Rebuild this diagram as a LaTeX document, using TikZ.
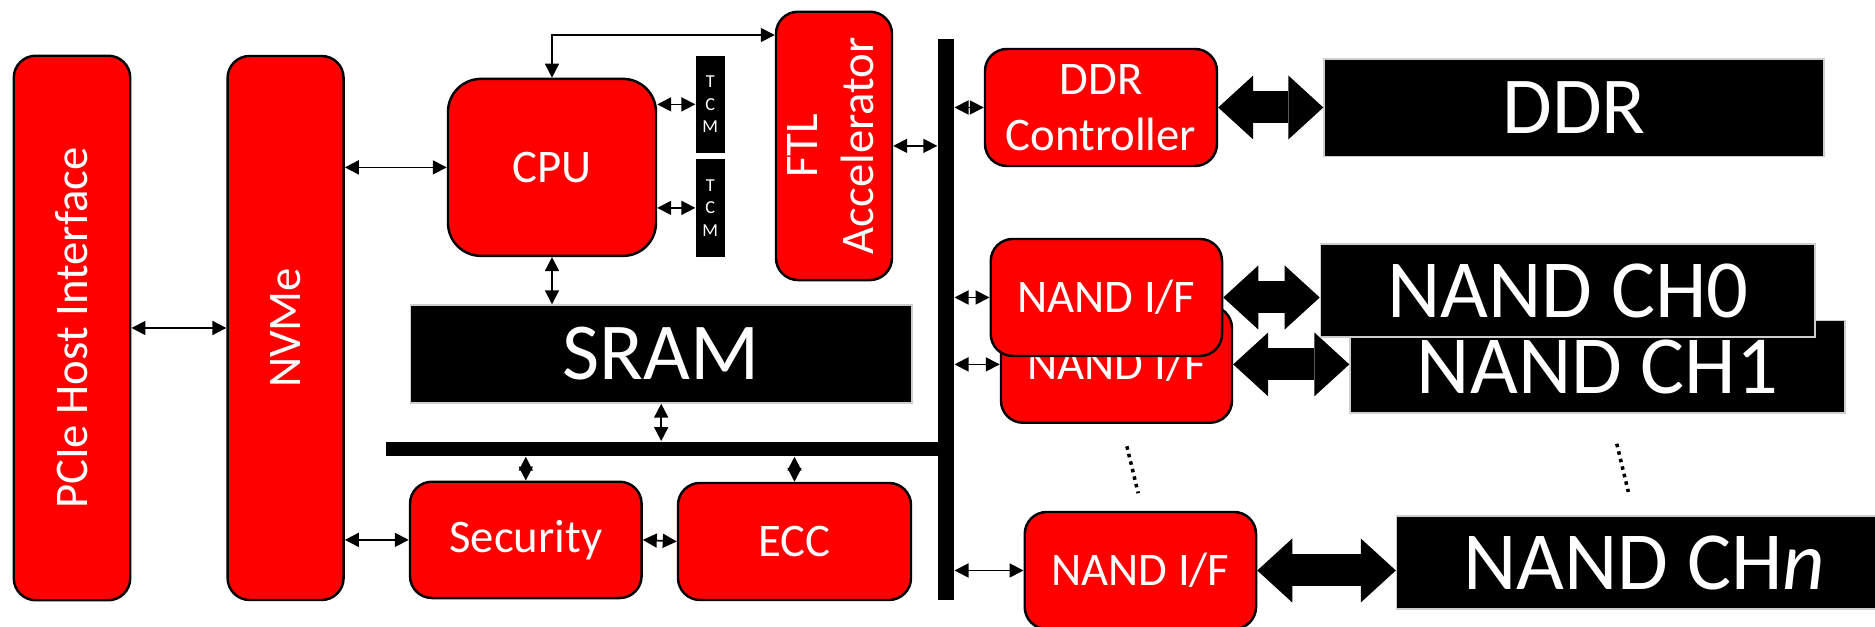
\documentclass[tikz,border=0pt]{standalone}
\usepackage{fontspec}
\setmainfont{Carlito}
\usetikzlibrary{arrows.meta,calc}
\definecolor{blockred}{RGB}{255,0,0}
\definecolor{edgegray}{RGB}{205,205,205}
\newcommand{\blockfont}{\fontsize{13.3}{16}\selectfont}
\newcommand{\memfont}{\fontsize{23.5}{28}\selectfont}
\newcommand{\tcmfont}{\fontsize{5.2}{6.4}\selectfont}
\tikzset{
  redblock/.style={draw=black,line width=0.7pt,fill=blockred,rounded corners=0.22cm,
    text=white,font=\blockfont,align=center,inner sep=0pt},
  memblock/.style={draw=edgegray,line width=0.4pt,fill=black,text=white,font=\memfont,inner sep=0pt},
  tcmblock/.style={fill=black,text=white,font=\tcmfont,align=center,inner sep=0pt},
  busbar/.style={fill=black,inner sep=0pt},
  arr/.style={{Triangle[length=1.4mm,width=1.4mm]}-{Triangle[length=1.4mm,width=1.4mm]},line width=0.5pt},
  fatarr/.style={{Triangle[length=3.5mm,width=6.4mm,line width=0pt]}-{Triangle[length=3.5mm,width=6.4mm,line width=0pt]},line width=3.2mm},
  dotsline/.style={line width=1pt,dash pattern=on 1pt off 1.2pt}
}

\begin{document}
\begin{tikzpicture}
  \useasboundingbox (0,0) rectangle (18.75,6.27);

  % host side
  \node[redblock,minimum width=1.165cm,minimum height=5.445cm] (pcie) at (0.72,2.99)
    {\rotatebox{90}{PCIe Host Interface}};
  \node[redblock,minimum width=1.16cm,minimum height=5.44cm] (nvme) at (2.856,2.99)
    {\rotatebox{90}{NVMe}};

  % core
  \node[redblock,rounded corners=0.33cm,minimum width=2.08cm,minimum height=1.77cm] (cpu) at (5.52,4.596) {CPU};
  \node[tcmblock,minimum width=0.285cm,minimum height=0.973cm] (tcmA) at (7.103,5.226) {T\\C\\M};
  \node[tcmblock,minimum width=0.285cm,minimum height=0.977cm] (tcmB) at (7.103,4.191) {T\\C\\M};
  \node[redblock,minimum width=1.16cm,minimum height=2.683cm] (ftl) at (8.34,4.811)
    {\rotatebox{90}{\begin{tabular}{@{}c@{}}FTL\\Accelerator\end{tabular}}};
  \node[memblock,font=\fontsize{23}{28}\selectfont,minimum width=5.015cm,minimum height=0.98cm] (sram) at (6.612,2.73) {SRAM};

  \node[busbar,minimum width=0.158cm,minimum height=5.61cm] (vbus) at (9.459,3.075) {};
  \node[busbar,minimum width=5.523cm,minimum height=0.143cm] (hbus) at (6.619,1.781) {};

  \node[redblock,minimum width=2.316cm,minimum height=1.163cm] (sec) at (5.258,0.871) {Security};
  \node[redblock,minimum width=2.33cm,minimum height=1.17cm] (ecc) at (7.945,0.855) {ECC};

  % DDR
  \node[redblock,minimum width=2.32cm,minimum height=1.17cm] (ddrc) at (11.01,5.195) {DDR\\Controller};
  \node[memblock,font=\fontsize{23}{28}\selectfont,minimum width=5.0cm,minimum height=0.977cm] (ddr) at (15.74,5.191) {DDR};
  \draw[fatarr] (ddrc.east) -- (ddrc.east -| ddr.west);

  % NAND channels
  \node[redblock,minimum width=2.31cm,minimum height=1.167cm] (nandB) at (11.165,2.626) {NAND I/F};
  \node[memblock,minimum width=4.95cm,minimum height=0.927cm] (ch1) at (15.975,2.604) {NAND CH1};
  \draw[fatarr] (nandB.east) -- (nandB.east -| ch1.west);

  \node[redblock,minimum width=2.313cm,minimum height=1.17cm] (nandA) at (11.064,3.295) {NAND I/F};
  \node[memblock,minimum width=4.946cm,minimum height=0.93cm] (ch0) at (15.677,3.365) {NAND CH0};
  \draw[fatarr] (nandA.east) -- (nandA.east -| ch0.west);

  \node[redblock,minimum width=2.313cm,minimum height=1.17cm] (nandN) at (11.404,0.565) {NAND I/F};
  \node[memblock,minimum width=4.95cm,minimum height=0.93cm] (chN) at (16.44,0.645) {NAND CH\textit{n}};
  \draw[fatarr] (nandN.east) -- (nandN.east -| chN.west);

  \draw[dotsline,shorten <=0.23cm,shorten >=0.18cm] ([xshift=0.05cm]nandB.south) -- ([xshift=0.02cm]nandN.north);
  \draw[dotsline,shorten <=0.31cm,shorten >=0.24cm] ([xshift=0.12cm]ch1.south) -- ([xshift=-0.1cm]chN.north);

  % links
  \draw[arr] (pcie.east) -- (nvme.west);
  \draw[arr] (nvme.east |- cpu.west) -- (cpu.west);
  \draw[arr] (nvme.east |- sec.west) -- (sec.west);
  \draw[arr] (cpu.north) |- ([yshift=-0.245cm]ftl.north west);
  \draw[arr] (cpu.east |- tcmA.west) -- (tcmA.west);
  \draw[arr] (cpu.east |- tcmB.west) -- (tcmB.west);
  \draw[arr] (cpu.south) -- (cpu.south |- sram.north);
  \draw[arr] (ftl.east) -- (ftl.east -| vbus.west);
  \draw[arr] (sram.south) -- (sram.south |- hbus.north);
  \draw[arr] (hbus.south -| sec.north) -- (sec.north);
  \draw[arr] (hbus.south -| ecc.north) -- (ecc.north);
  \draw[arr] (sec.east) -- (ecc.west);

  \foreach \n in {ddrc,nandA,nandB,nandN}{
    \draw[arr] (vbus.east |- \n.west) -- (\n.west);
  }
\end{tikzpicture}
\end{document}
